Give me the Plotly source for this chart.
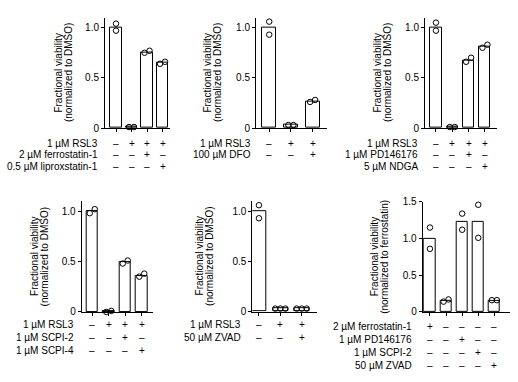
import plotly.graph_objects as go

W, H = 518, 382
FONT = "Liberation Sans, Arial, Helvetica, sans-serif"

# ---------------- data ----------------
p1_rows = ["1 µM RSL3", "2 µM ferrostatin-1", "0.5 µM liproxstatin-1"]
p1_signs = [["–", "+", "+", "+"], ["–", "–", "+", "–"], ["–", "–", "–", "+"]]
p1_bars = [1.0, 0.01, 0.75, 0.65]
p1_points = [[1.04, 0.97], [0.01, 0.01], [0.75, 0.77], [0.64, 0.66]]

p2_rows = ["1 µM RSL3", "100 µM DFO"]
p2_signs = [["–", "+", "+"], ["–", "–", "+"]]
p2_bars = [1.0, 0.03, 0.26]
p2_points = [[1.06, 0.93], [0.03, 0.03], [0.26, 0.28]]

p3_rows = ["1 µM RSL3", "1 µM PD146176", "5 µM NDGA"]
p3_signs = [["–", "+", "+", "+"], ["–", "–", "+", "–"], ["–", "–", "–", "+"]]
p3_bars = [1.0, 0.01, 0.67, 0.81]
p3_points = [[1.05, 0.97], [0.01, 0.01], [0.66, 0.70], [0.80, 0.83]]

p4_rows = ["1 µM RSL3", "1 µM SCPI-2", "1 µM SCPI-4"]
p4_signs = [["–", "+", "+", "+"], ["–", "–", "+", "–"], ["–", "–", "–", "+"]]
p4_bars = [1.0, 0.005, 0.49, 0.36]
p4_points = [[0.98, 1.02], [0.0, 0.01], [0.48, 0.51], [0.35, 0.38]]

p5_rows = ["1 µM RSL3", "50 µM ZVAD"]
p5_signs = [["–", "+", "+"], ["–", "–", "+"]]
p5_bars = [1.0, 0.03, 0.03]
p5_points = [[1.06, 0.93], [0.03, 0.03, 0.03], [0.03, 0.03, 0.03]]

p6_rows = ["2 µM ferrostatin-1", "1 µM PD146176", "1 µM SCPI-2", "50 µM ZVAD"]
p6_signs = [["+", "–", "–", "–", "–"], ["–", "–", "+", "–", "–"],
            ["–", "–", "–", "+", "–"], ["–", "–", "–", "–", "+"]]
p6_bars = [1.0, 0.15, 1.23, 1.23, 0.15]
p6_points = [[1.15, 0.86], [0.14, 0.17], [1.34, 1.12], [1.46, 1.01], [0.16, 0.16]]

y_ticks_a = [0, 0.5, 1.0]
y_ticktext_a = ["0", "0.5", "1.0"]
y_ticks_b = [0, 0.5, 1.0, 1.5]
y_ticktext_b = ["0", "0.5", "1.0", "1.5"]
title_dmso = ["Fractional viability", "(normalized to DMSO)"]
title_ferro = ["Fractional viability", "(normalized to ferrostatin)"]

# ---------------- layout (pixel geometry) ----------------
panels = [
    dict(rows=p1_rows, signs=p1_signs, bars=p1_bars, pts=p1_points,
         xpx=(105, 170), xr=(-0.71, 3.48), ypx=(13.0, 126.7), yr=(0, 1.1),
         tv=y_ticks_a, tt=y_ticktext_a, bw=0.75, rowy=[142.3, 154.3, 166.3],
         title=title_dmso, toff=41),
    dict(rows=p2_rows, signs=p2_signs, bars=p2_bars, pts=p2_points,
         xpx=(256, 326.7), xr=(-0.61, 2.65), ypx=(13.0, 126.7), yr=(0, 1.1),
         tv=y_ticks_a, tt=y_ticktext_a, bw=0.65, rowy=[142.3, 154.3],
         title=title_dmso, toff=43),
    dict(rows=p3_rows, signs=p3_signs, bars=p3_bars, pts=p3_points,
         xpx=(425, 496.7), xr=(-0.67, 3.72), ypx=(13.0, 126.7), yr=(0, 1.1),
         tv=y_ticks_a, tt=y_ticktext_a, bw=0.68, rowy=[142.3, 154.3, 166.3],
         title=title_dmso, toff=42),
    dict(rows=p4_rows, signs=p4_signs, bars=p4_bars, pts=p4_points,
         xpx=(81.7, 153.3), xr=(-0.64, 3.7), ypx=(201.9, 316.0), yr=(0, 1.1),
         tv=y_ticks_a, tt=y_ticktext_a, bw=0.68, rowy=[329.3, 342.5, 355.7],
         title=title_dmso, toff=42),
    dict(rows=p5_rows, signs=p5_signs, bars=p5_bars, pts=p5_points,
         xpx=(252.3, 316.7), xr=(-0.31, 2.7), ypx=(202.0, 315.7), yr=(0, 1.1),
         tv=y_ticks_a, tt=y_ticktext_a, bw=0.7, rowy=[329.3, 342.7],
         title=title_dmso, toff=48),
    dict(rows=p6_rows, signs=p6_signs, bars=p6_bars, pts=p6_points,
         xpx=(422.7, 510), xr=(-0.45, 4.97), ypx=(202.7, 316.0), yr=(0, 1.5),
         tv=y_ticks_b, tt=y_ticktext_b, bw=0.72, rowy=[331.0, 344.3, 357.7, 371.0],
         title=title_ferro, toff=43),
]

fig = go.Figure()
annotations = []
layout_axes = {}
MARK_PX = 5.5

for k, p in enumerate(panels, start=1):
    xa = "x" if k == 1 else f"x{k}"
    ya = "y" if k == 1 else f"y{k}"
    n = len(p["bars"])
    cats = list(range(n))

    fig.add_trace(go.Bar(
        x=cats, y=p["bars"], xaxis=xa, yaxis=ya, width=p["bw"],
        marker=dict(color="white", line=dict(color="black", width=1)),
        showlegend=False, hoverinfo="skip"))

    # scales (px per unit) to spread overlapping replicate points
    xppu = (p["xpx"][1] - p["xpx"][0]) / (p["xr"][1] - p["xr"][0])
    yppu = (p["ypx"][1] - p["ypx"][0]) / (p["yr"][1] - p["yr"][0])
    px_, py_ = [], []
    for i, vals in enumerate(p["pts"]):
        spread = (max(vals) - min(vals)) * yppu < 6
        svals = sorted(vals) if spread else vals
        m = len(svals)
        for j, v in enumerate(svals):
            off = (j - (m - 1) / 2) * (MARK_PX - 0.5) / xppu if spread else 0
            px_.append(i + off)
            py_.append(v)
    fig.add_trace(go.Scatter(
        x=px_, y=py_, xaxis=xa, yaxis=ya, mode="markers",
        marker=dict(symbol="circle-open", size=MARK_PX, color="black",
                    line=dict(width=1, color="black")),
        showlegend=False, hoverinfo="skip", cliponaxis=False))

    xkey = "xaxis" if k == 1 else f"xaxis{k}"
    ykey = "yaxis" if k == 1 else f"yaxis{k}"
    layout_axes[xkey] = dict(
        domain=[p["xpx"][0] / W, p["xpx"][1] / W], range=list(p["xr"]),
        anchor=ya, showline=True, linecolor="black", linewidth=1,
        ticks="outside", ticklen=3, tickwidth=1, tickcolor="black",
        tickvals=cats, showticklabels=False, showgrid=False, zeroline=False,
        fixedrange=True)
    layout_axes[ykey] = dict(
        domain=[1 - p["ypx"][1] / H, 1 - p["ypx"][0] / H], range=list(p["yr"]),
        anchor=xa, showline=True, linecolor="black", linewidth=1,
        ticks="outside", ticklen=3, tickwidth=1, tickcolor="black",
        tickvals=p["tv"], ticktext=p["tt"], showgrid=False, zeroline=False,
        tickfont=dict(size=10, color="black", family=FONT), fixedrange=True)

    # y titles (two lines as separate annotations for tight line spacing)
    for li, line in enumerate(p["title"]):
        annotations.append(dict(
            text=line, textangle=-90, xref=f"{xa} domain", yref=f"{ya} domain",
            x=0, y=0.5, xanchor="center", yanchor="middle", showarrow=False,
            xshift=-p["toff"] + (li - 0.5) * 10.5,
            font=dict(size=10, color="black", family=FONT)))

    # condition rows
    for r, (label, signs) in enumerate(zip(p["rows"], p["signs"])):
        yy = 1 - p["rowy"][r] / H
        annotations.append(dict(
            text=label, xref=xa, yref="paper", x=0, y=yy, xanchor="right",
            yanchor="middle", xshift=-16, showarrow=False,
            font=dict(size=10, color="black", family=FONT)))
        for i, s in enumerate(signs):
            annotations.append(dict(
                text=s, xref=xa, yref="paper", x=i, y=yy, xanchor="center",
                yanchor="middle", showarrow=False,
                font=dict(size=10, color="black", family=FONT)))

fig.update_layout(
    width=W, height=H, margin=dict(l=0, r=0, t=0, b=0),
    paper_bgcolor="white", plot_bgcolor="white",
    font=dict(family=FONT, size=10, color="black"),
    annotations=annotations, bargap=0, **layout_axes)

fig.write_html("out.html", config={"displayModeBar": False},
               post_script="document.body.style.margin='0';")
